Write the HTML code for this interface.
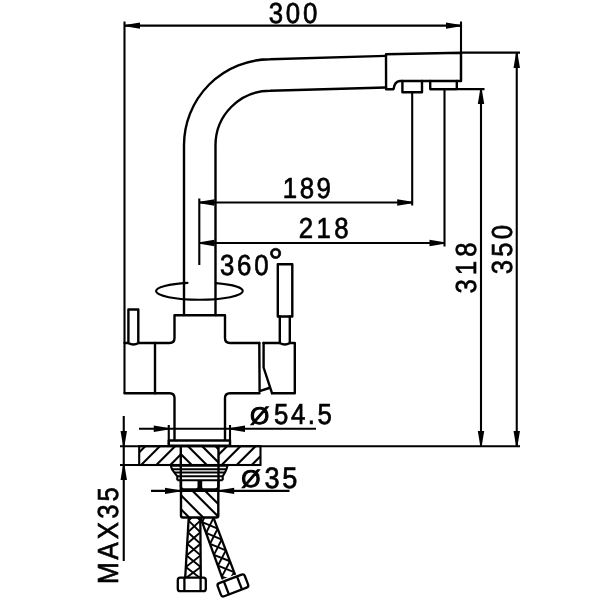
<!DOCTYPE html>
<html><head><meta charset="utf-8"><title>Faucet dimensions</title>
<style>html,body{margin:0;padding:0;background:#fff}svg{display:block;will-change:transform}</style>
</head><body>
<svg width="600" height="600" viewBox="0 0 600 600">
<rect width="600" height="600" fill="#fff"/>
<g fill="none" stroke="#000" stroke-width="2.1" stroke-linecap="butt" stroke-linejoin="round">
<line x1="124.5" y1="21.5" x2="124.5" y2="393.2"/>
<line x1="125" y1="25.6" x2="461" y2="25.6"/>
<line x1="461" y1="21.5" x2="461" y2="81"/>
<polygon points="125.00,24.90 140.00,22.40 140.00,28.80 125.00,26.30" fill="#000" stroke="none"/>
<polygon points="461.00,26.30 446.00,28.80 446.00,22.40 461.00,24.90" fill="#000" stroke="none"/>
<line x1="461" y1="52.6" x2="520" y2="52.6"/>
<line x1="430" y1="89.1" x2="484.5" y2="89.1"/>
<line x1="481" y1="89" x2="481" y2="446"/>
<polygon points="481.70,89.00 484.20,104.00 477.80,104.00 480.30,89.00" fill="#000" stroke="none"/>
<polygon points="480.30,446.00 477.80,431.00 484.20,431.00 481.70,446.00" fill="#000" stroke="none"/>
<line x1="516.75" y1="53" x2="516.75" y2="446"/>
<polygon points="517.45,53.00 519.95,68.00 513.55,68.00 516.05,53.00" fill="#000" stroke="none"/>
<polygon points="516.05,446.00 513.55,431.00 519.95,431.00 517.45,446.00" fill="#000" stroke="none"/>
<line x1="120" y1="446.2" x2="520" y2="446.2"/>
<line x1="120" y1="465" x2="171" y2="465"/>
<line x1="199.5" y1="202.5" x2="412.2" y2="202.5"/>
<polygon points="199.50,201.80 214.50,199.30 214.50,205.70 199.50,203.20" fill="#000" stroke="none"/>
<polygon points="412.20,203.20 397.20,205.70 397.20,199.30 412.20,201.80" fill="#000" stroke="none"/>
<line x1="412.2" y1="92.5" x2="412.2" y2="205.5"/>
<line x1="199.5" y1="243" x2="444.5" y2="243"/>
<polygon points="199.50,242.30 214.50,239.80 214.50,246.20 199.50,243.70" fill="#000" stroke="none"/>
<polygon points="444.50,243.70 429.50,246.20 429.50,239.80 444.50,242.30" fill="#000" stroke="none"/>
<line x1="444.5" y1="89" x2="444.5" y2="246.5"/>
<line x1="199.3" y1="198.5" x2="199.3" y2="265"/>
<line x1="139" y1="428.75" x2="316" y2="428.75"/>
<polygon points="168.75,429.45 153.75,431.95 153.75,425.55 168.75,428.05" fill="#000" stroke="none"/>
<polygon points="230.00,428.05 245.00,425.55 245.00,431.95 230.00,429.45" fill="#000" stroke="none"/>
<line x1="168.75" y1="425" x2="168.75" y2="445"/>
<line x1="230" y1="425" x2="230" y2="445"/>
<line x1="151" y1="490.9" x2="289.5" y2="490.9"/>
<polygon points="180.00,491.60 165.00,494.10 165.00,487.70 180.00,490.20" fill="#000" stroke="none"/>
<polygon points="219.20,490.20 234.20,487.70 234.20,494.10 219.20,491.60" fill="#000" stroke="none"/>
<line x1="123.75" y1="416" x2="123.75" y2="561"/>
<polygon points="123.05,446.00 120.55,431.00 126.95,431.00 124.45,446.00" fill="#000" stroke="none"/>
<polygon points="124.45,465.00 126.95,480.00 120.55,480.00 123.05,465.00" fill="#000" stroke="none"/>
</g>
<g fill="none" stroke="#000" stroke-width="2.4" stroke-linecap="round" stroke-linejoin="round">
<path d="M184 315 V145.3 A86 86 0 0 1 270 59.3 L386 55.9"/>
<path d="M215.5 315 V145.3 A54.5 54.5 0 0 1 270 90.8 L386 87.5"/>
<path d="M386 54.2 L461 52.7 V81 H400 Q394.5 81.5 393.5 89.2 H386.1 Z"/>
<path d="M402.4 81 V92.3 H422 V81"/>
<path d="M430.2 81 V89.1 H456.8 V81"/>
<path d="M187.5 282.83 A43.4 8.6 0 0 0 156 291.1 A43.4 8.6 0 0 0 242.8 291.1 A43.4 8.6 0 0 0 215.6 283.12" stroke-width="2.1"/>
<path d="M174.5 315.3 H225 V338 Q225 343 230 343 H259.3 M263.5 343 H279.8 M289.8 343 H294.8 V393.2 H272 M259.5 393.2 H230 Q225 393.2 225 398 V440 M174.5 440 V398 Q174.5 393.2 169.7 393.2 H124.5 M124.5 343 H169.5 Q174.5 343 174.5 338 V315.3"/>
<line x1="155" y1="343" x2="155" y2="393.2"/>
<path d="M128.4 309.5 H138.3 V343 Q133.4 346 128.4 343 Z" fill="#fff"/>
<path d="M277.8 264.3 H292.3 V316.5 H277.8 Z"/>
<path d="M279.8 316.5 V343 M289.8 316.5 V343 M279.8 343 Q284.8 346 289.8 343"/>
<path d="M259.3 343 L259.6 391.2 L269.2 388"/>
<path d="M263.6 343 V367.5 L272 393.2"/>
<path d="M168.8 440.5 H230 V445.8 H168.8 Z"/>
</g>
<defs><clipPath id="c1"><rect x="139.2" y="446.2" width="41.6" height="18.8"/></clipPath><clipPath id="c2"><rect x="180.8" y="446.2" width="37.8" height="18.8"/></clipPath><clipPath id="c3"><rect x="218.6" y="446.2" width="41.9" height="18.8"/></clipPath><clipPath id="c4"><rect x="181" y="490.8" width="37.3" height="26.7"/></clipPath></defs>
<g fill="none" stroke="#000" stroke-width="2.1">
<rect x="139.2" y="446.2" width="121.3" height="18.8"/>
<g clip-path="url(#c1)">
<line x1="121.5" y1="470" x2="151.5" y2="440"/>
<line x1="136.1" y1="470" x2="166.1" y2="440"/>
<line x1="151.3" y1="470" x2="181.3" y2="440"/>
<line x1="165.3" y1="470" x2="195.3" y2="440"/>
</g><g clip-path="url(#c3)">
<line x1="203.3" y1="470" x2="233.3" y2="440"/>
<line x1="216.7" y1="470" x2="246.7" y2="440"/>
<line x1="231.7" y1="470" x2="261.7" y2="440"/>
<line x1="246.7" y1="470" x2="276.7" y2="440"/>
</g><g clip-path="url(#c2)" stroke-width="2.1">
<line x1="153.5" y1="441.2" x2="183.5" y2="471.2"/>
<line x1="168.0" y1="441.2" x2="198.0" y2="471.2"/>
<line x1="183" y1="441.2" x2="213" y2="471.2"/>
<line x1="197.2" y1="441.2" x2="227.2" y2="471.2"/>
<line x1="210.5" y1="441.2" x2="240.5" y2="471.2"/>
</g>
<line x1="180.8" y1="446" x2="180.8" y2="491" stroke-width="2.4"/>
<line x1="218.5" y1="446" x2="218.5" y2="491" stroke-width="2.4"/>
<line x1="170.8" y1="465.8" x2="227.5" y2="465.8"/>
<line x1="172" y1="469.2" x2="226.5" y2="469.2"/>
<line x1="174.2" y1="472.5" x2="225" y2="472.5"/>
<line x1="177.3" y1="476.3" x2="222.7" y2="476.3"/>
<line x1="177.3" y1="480.2" x2="222.7" y2="480.2"/>
<path d="M170.8 465.8 L172 469.2 L174.2 472.5 L177.3 476.3 V480.2 M227.5 465.8 L226.5 469.2 L225 472.5 L222.7 476.3 V480.2"/>
<path d="M181 480.2 V487 Q181.5 489.5 184 489.5 H196 Q198.7 489.3 198.7 487 V480.2 M201 480.2 V487 Q201 489.3 203.5 489.5 H215.5 Q218 489.5 218.4 487 V480.2" stroke-width="2.4"/>
<line x1="199.8" y1="480.2" x2="199.8" y2="490" stroke-width="2.4"/>
<path d="M181 490 V515.5 Q181 517.5 183 517.5 H216.3 Q218.3 517.5 218.3 515.5 V490" stroke-width="2.4"/>
<g clip-path="url(#c4)" stroke-width="2.1">
<line x1="157.5" y1="485.8" x2="197.5" y2="525.8"/>
<line x1="171.5" y1="485.8" x2="211.5" y2="525.8"/>
<line x1="187.5" y1="485.8" x2="227.5" y2="525.8"/>
<line x1="200" y1="485.8" x2="240" y2="525.8"/>
</g>
</g>
<clipPath id="h1"><polygon points="188.7,518 200.3,518 200.8,577.5 185.2,577.5"/></clipPath>
<g fill="none" stroke="#000" stroke-width="2.3">
<line x1="188.7" y1="518" x2="185.2" y2="577.5"/>
<line x1="200.3" y1="518" x2="200.8" y2="577.5"/>
<g clip-path="url(#h1)" stroke-width="1.9">
<line x1="189.23" y1="509.0" x2="200.32" y2="520.6"/>
<line x1="200.22" y1="509.0" x2="188.55" y2="520.6"/>
<line x1="188.55" y1="520.6" x2="200.42" y2="532.2"/>
<line x1="200.32" y1="520.6" x2="187.86" y2="532.2"/>
<line x1="187.86" y1="532.2" x2="200.52" y2="543.8"/>
<line x1="200.42" y1="532.2" x2="187.18" y2="543.8"/>
<line x1="187.18" y1="543.8" x2="200.61" y2="555.4"/>
<line x1="200.52" y1="543.8" x2="186.5" y2="555.4"/>
<line x1="186.5" y1="555.4" x2="200.71" y2="567.0"/>
<line x1="200.61" y1="555.4" x2="185.82" y2="567.0"/>
<line x1="185.82" y1="567.0" x2="200.81" y2="578.6"/>
<line x1="200.71" y1="567.0" x2="185.14" y2="578.6"/>
</g></g>
<clipPath id="h2o"><rect x="150" y="518" width="120" height="82"/></clipPath>
<g clip-path="url(#h2o)"><g transform="translate(207.1 518) rotate(-20.3)">
<clipPath id="h2"><polygon points="-6.0,-6 6.0,-6 6.6,63 -6.6,63"/></clipPath>
<g fill="none" stroke="#000" stroke-width="2.3">
<line x1="-6.0" y1="-6" x2="-6.6" y2="63"/>
<line x1="6.0" y1="-6" x2="6.6" y2="63"/>
<g clip-path="url(#h2)" stroke-width="1.9">
<line x1="-5.97" y1="-9.5" x2="6.07" y2="2.1"/>
<line x1="5.97" y1="-9.5" x2="-6.07" y2="2.1"/>
<line x1="-6.07" y1="2.1" x2="6.17" y2="13.7"/>
<line x1="6.07" y1="2.1" x2="-6.17" y2="13.7"/>
<line x1="-6.17" y1="13.7" x2="6.27" y2="25.3"/>
<line x1="6.17" y1="13.7" x2="-6.27" y2="25.3"/>
<line x1="-6.27" y1="25.3" x2="6.37" y2="36.9"/>
<line x1="6.27" y1="25.3" x2="-6.37" y2="36.9"/>
<line x1="-6.37" y1="36.9" x2="6.47" y2="48.5"/>
<line x1="6.37" y1="36.9" x2="-6.47" y2="48.5"/>
<line x1="-6.47" y1="48.5" x2="6.57" y2="60.1"/>
<line x1="6.47" y1="48.5" x2="-6.57" y2="60.1"/>
<line x1="-6.57" y1="60.1" x2="6.68" y2="71.7"/>
<line x1="6.57" y1="60.1" x2="-6.68" y2="71.7"/>
</g></g>
</g></g>
<g fill="none" stroke="#000" stroke-width="2.3" stroke-linejoin="round">
<rect x="177.8" y="577.7" width="28" height="13.5" rx="2.5"/>
<line x1="184.4" y1="577.7" x2="184.4" y2="591.2"/>
<line x1="200.6" y1="577.7" x2="200.6" y2="591.2"/>
<g transform="translate(232.9 585.4) rotate(-21)">
<rect x="-14.5" y="-7" width="29" height="14" rx="2.5"/>
<line x1="-7" y1="-7" x2="-7" y2="7"/>
<line x1="7" y1="-7" x2="7" y2="7"/>
</g></g>
<g font-family="'Liberation Sans', Arial, sans-serif" text-rendering="geometricPrecision" fill="#000" stroke="#000" stroke-width="0.7">
<text x="0" y="0" font-size="29" letter-spacing="3.1" transform="translate(268.7 22.7) scale(0.89 1)">300</text>
<text x="0" y="0" font-size="29" letter-spacing="2.9" transform="translate(282.7 198.4) scale(0.89 1)">189</text>
<text x="0" y="0" font-size="29" letter-spacing="3.9" transform="translate(298.7 237.6) scale(0.89 1)">218</text>
<text x="0" y="0" font-size="29" letter-spacing="3.1" transform="translate(220 274.6) scale(0.89 1)">360</text>
<text x="0" y="0" font-size="37" letter-spacing="0" transform="translate(268.3 274) scale(1 1)">°</text>
<text x="0" y="0" font-size="24" letter-spacing="0" stroke-width="1.0" transform="translate(250 423.7) scale(1.03 1)">Ø</text>
<text x="0" y="0" font-size="29" letter-spacing="2.9" transform="translate(274 424.4) scale(0.89 1)">54.5</text>
<text x="0" y="0" font-size="24" letter-spacing="0" stroke-width="1.0" transform="translate(241.2 487.3) scale(1.03 1)">Ø</text>
<text x="0" y="0" font-size="29.5" letter-spacing="2.85" transform="translate(264.6 487.9) scale(0.92 1)">35</text>
<text x="0" y="0" font-size="29" letter-spacing="4.5" transform="translate(476.0 293.5) rotate(-90) scale(0.89 1)">318</text>
<text x="0" y="0" font-size="29" letter-spacing="3.6" transform="translate(512.4 274.3) rotate(-90) scale(0.89 1)">350</text>
<text x="0" y="0" font-size="29" letter-spacing="3.45" transform="translate(118.0 584) rotate(-90) scale(0.89 1)">MAX35</text>
</g>
</svg>
</body></html>
